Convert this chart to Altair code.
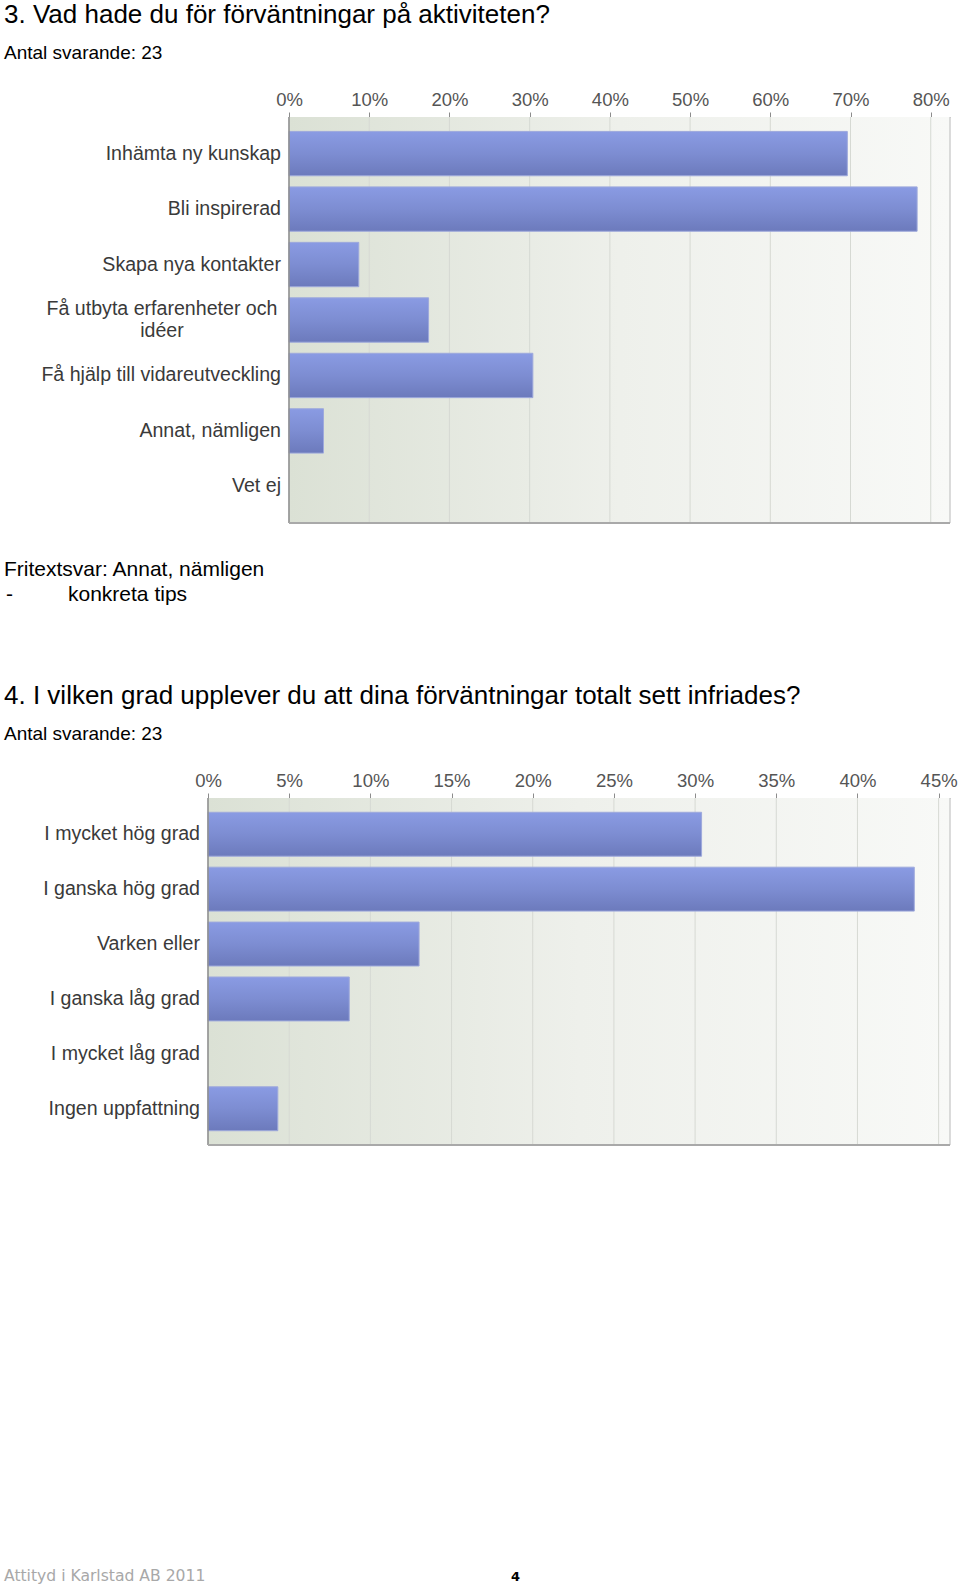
import altair as alt
import pandas as pd

# ---------------- texts ----------------
TITLE1 = "3. Vad hade du för förväntningar på aktiviteten?"
SUB1 = "Antal svarande: 23"
FREE_HEAD = "Fritextsvar: Annat, nämligen"
FREE_DASH = "-"
FREE_ITEM = "konkreta tips"
TITLE2 = "4. I vilken grad upplever du att dina förväntningar totalt sett infriades?"
SUB2 = "Antal svarande: 23"
FOOTER = "Attityd i Karlstad AB 2011"
PAGE_NO = "4"

# ---------------- chart 1 data ----------------
CATS1 = ["Inhämta ny kunskap", "Bli inspirerad", "Skapa nya kontakter",
         "Få utbyta erfarenheter och idéer", "Få hjälp till vidareutveckling",
         "Annat, nämligen", "Vet ej"]
LABELS1 = ["Inhämta ny kunskap", "Bli inspirerad", "Skapa nya kontakter",
           "Få utbyta erfarenheter och\nidéer", "Få hjälp till vidareutveckling",
           "Annat, nämligen", "Vet ej"]
VALS1 = [69.6, 78.3, 8.7, 17.4, 30.4, 4.3, 0.0]
TICKS1 = [0, 10, 20, 30, 40, 50, 60, 70, 80]
XMAX1 = 82.4

# ---------------- chart 2 data ----------------
CATS2 = ["I mycket hög grad", "I ganska hög grad", "Varken eller",
         "I ganska låg grad", "I mycket låg grad", "Ingen uppfattning"]
VALS2 = [30.4, 43.5, 13.0, 8.7, 0.0, 4.3]
TICKS2 = [0, 5, 10, 15, 20, 25, 30, 35, 40, 45]
XMAX2 = 45.7

SANS = "Liberation Sans"

W = 742
H1 = 406
H2 = 347

BG = alt.Gradient(gradient="linear", x1=0, x2=1, y1=0, y2=0,
                  stops=[alt.GradientStop(color="#dbe1d5", offset=0),
                         alt.GradientStop(color="#eef0eb", offset=0.5),
                         alt.GradientStop(color="#f8f9f7", offset=1)])
BAR = alt.Gradient(gradient="linear", x1=0, x2=0, y1=0, y2=1,
                   stops=[alt.GradientStop(color="#8a9be3", offset=0),
                          alt.GradientStop(color="#7d8dd2", offset=0.5),
                          alt.GradientStop(color="#6c7abc", offset=1)])


def text_layer(txt, x, y, size, color="#000000", font=SANS, weight="normal"):
    return alt.Chart(pd.DataFrame({"t": [txt]})).mark_text(
        align="left", baseline="alphabetic", font=font, fontSize=size,
        color=color, fontWeight=weight
    ).encode(text="t:N", x=alt.value(x), y=alt.value(y))


def bar_panel(cats, labels, vals, ticks, xmax, xrange=None, label_font_size=19.6):
    multi = ["\n" in l for l in labels]
    df = pd.DataFrame({"cat": cats, "label": labels, "val": vals, "multi": multi})
    frame = pd.DataFrame({"a": [0.0], "b": [xmax]})
    if xrange is None:
        xs = alt.Scale(domain=[0, xmax], nice=False, zero=True)
    else:
        xs = alt.Scale(domain=[0, xmax], range=xrange, nice=False, zero=True)
    ys = alt.Scale(domain=cats, paddingInner=0.2, paddingOuter=0.26)
    ax = alt.Axis(orient="top", values=ticks, labelExpr="datum.value + '%'",
                  grid=False, domainColor="#8c8c8c", tickColor="#8c8c8c",
                  tickSize=5, labelColor="#555555", labelFont=SANS,
                  labelFontSize=18.5, labelPadding=3, title=None,
                  labelFlush=False, labelOverlap=False)

    bg = alt.Chart(frame).mark_rect(fill=BG).encode(
        x=alt.X("a:Q", scale=xs, axis=ax), x2="b:Q",
        y=alt.value(0), y2=alt.value("height"))
    grid = alt.Chart(pd.DataFrame({"t": ticks})).mark_rule(
        color="#d6d9d3", strokeWidth=1).encode(
        x=alt.X("t:Q", scale=xs, axis=ax), y=alt.value(0), y2=alt.value("height"))
    bars = alt.Chart(df).transform_filter("datum.val > 0").mark_bar(
        fill=BAR, stroke="#9ea9dc", strokeWidth=1, cornerRadius=0).encode(
        y=alt.Y("cat:N", scale=ys, axis=None, sort=cats),
        x=alt.X("val:Q", scale=xs, axis=ax))
    left = alt.Chart(frame).mark_rule(color="#8c8c8c", strokeWidth=1.5).encode(
        x=alt.X("a:Q", scale=xs, axis=ax), y=alt.value(0), y2=alt.value("height"))
    right = alt.Chart(frame).mark_rule(color="#cfcfcf", strokeWidth=1.5).encode(
        x=alt.X("b:Q", scale=xs, axis=ax), y=alt.value(0), y2=alt.value("height"))
    bottom = alt.Chart(frame).mark_rule(color="#a9a9a9", strokeWidth=2).encode(
        x=alt.X("a:Q", scale=xs, axis=ax), x2="b:Q", y=alt.value("height"))
    lab = alt.Chart(df).transform_filter("!datum.multi").transform_calculate(
        zero="0").mark_text(align="right", baseline="middle", dx=-8,
                            font=SANS, fontSize=label_font_size, color="#3a3a3a").encode(
        y=alt.Y("cat:N", scale=ys, axis=None, sort=cats),
        x=alt.X("zero:Q", scale=xs, axis=ax), text="label:N")
    lab_multi = alt.Chart(df).transform_filter("datum.multi").transform_calculate(
        zero="0").mark_text(align="center", baseline="middle", dx=-127, dy=-11,
                            lineBreak="\n", lineHeight=22,
                            font=SANS, fontSize=label_font_size, color="#3a3a3a").encode(
        y=alt.Y("cat:N", scale=ys, axis=None, sort=cats),
        x=alt.X("zero:Q", scale=xs, axis=ax), text="label:N")
    return [bg, grid, bars, left, right, bottom, lab, lab_multi]


# pin the top-left page corner (page origin) relative to the chart-1 plot area
pin = alt.Chart(pd.DataFrame({"p": [0]})).mark_rect(opacity=0).encode(
    x=alt.value(-208), x2=alt.value(-207), y=alt.value(-117), y2=alt.value(-116))

layers1 = bar_panel(CATS1, LABELS1, VALS1, TICKS1, XMAX1, xrange=[81, W])
chart1 = alt.layer(
    *layers1,
    pin,
    text_layer(TITLE1, -204, -94, 26),
    text_layer(SUB1, -204, -58, 19),
    text_layer(FREE_HEAD, -204, 459, 21),
    text_layer(FREE_DASH, -202, 484, 21),
    text_layer(FREE_ITEM, -140, 484, 21),
).properties(width=W, height=H1)

layers2 = bar_panel(CATS2, CATS2, VALS2, TICKS2, XMAX2)
chart2 = alt.layer(
    *layers2,
    text_layer(TITLE2, -204, -94, 26),
    text_layer(SUB2, -204, -58, 19),
    text_layer(FOOTER, -204, 783, 15.6, color="#a8a8a8", font="DejaVu Sans"),
    text_layer(PAGE_NO, 303, 783, 13, weight="bold", font="DejaVu Sans"),
).properties(width=W, height=H2)

chart = alt.vconcat(chart1, chart2, spacing=275, bounds="flush").properties(
    padding=0, background="white"
).configure_view(stroke=None)

chart.save("out.html", embed_options={"renderer": "svg", "actions": False})
